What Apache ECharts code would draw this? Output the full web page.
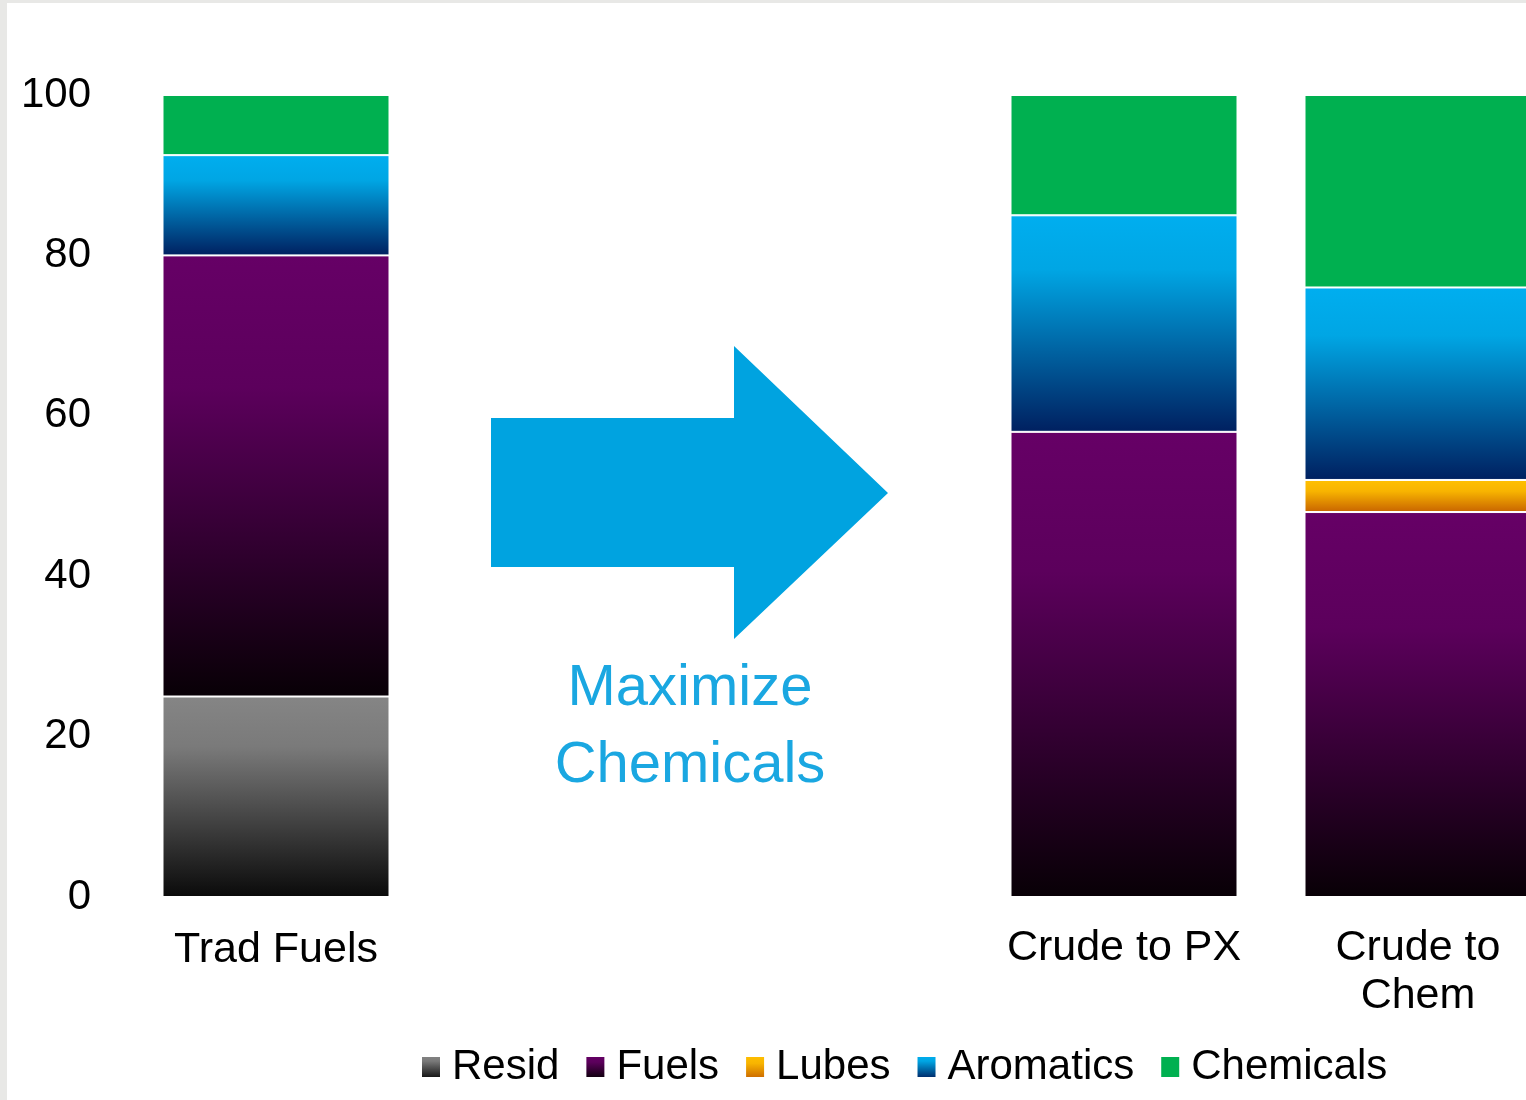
<!DOCTYPE html>
<html>
<head>
<meta charset="utf-8">
<script src="https://cdn.jsdelivr.net/npm/echarts@6/dist/echarts.min.js"></script>
<style>
  html, body { margin: 0; padding: 0; background: #ffffff; }
  #chart { width: 1526px; height: 1100px; }
</style>
</head>
<body>
<div id="chart"></div>
<script>
// ---- data ----
const leftCategories = ["Trad Fuels"];
const rightCategories = ["Crude to PX", "Crude to\nChem"];
const seriesNames = ["Resid", "Fuels", "Lubes", "Aromatics", "Chemicals"];
const residLeft = [25];
const fuelsLeft = [55];
const lubesLeft = [0];
const aromaticsLeft = [12.5];
const chemicalsLeft = [7.5];
const residRight = [0, 0];
const fuelsRight = [58, 48];
const lubesRight = [0, 4];
const aromaticsRight = [27, 24];
const chemicalsRight = [15, 24];
const yTicks = [0, 20, 40, 60, 80, 100];

// ---- styles ----
function grad(stops) {
  return new echarts.graphic.LinearGradient(0, 0, 0, 1,
    stops.map(s => ({ offset: s[0], color: s[1] })));
}
const colors = {
  Resid: grad([[0, '#858585'], [0.25, '#7a7a7a'], [1, '#0a0a0a']]),
  Fuels: grad([[0, '#660066'], [0.3, '#5c005c'], [1, '#080006']]),
  Lubes: grad([[0, '#ffc000'], [0.35, '#f8b400'], [1, '#c86400']]),
  Aromatics: grad([[0, '#00aeef'], [0.25, '#00a6e4'], [1, '#002060']]),
  Chemicals: '#00b050'
};
const leftData = { Resid: residLeft, Fuels: fuelsLeft, Lubes: lubesLeft, Aromatics: aromaticsLeft, Chemicals: chemicalsLeft };
const rightData = { Resid: residRight, Fuels: fuelsRight, Lubes: lubesRight, Aromatics: aromaticsRight, Chemicals: chemicalsRight };

const FONT = '"Liberation Sans", Arial, sans-serif';
const series = [];
seriesNames.forEach(name => {
  [[leftData, 0], [rightData, 1]].forEach(([src, idx]) => {
    series.push({
      name: name,
      type: 'bar',
      stack: 'total' + idx,
      xAxisIndex: idx,
      yAxisIndex: idx,
      barWidth: 227,
      data: src[name].map(v => v === 0 ? '-' : v),
      itemStyle: { color: colors[name], borderColor: '#ffffff', borderWidth: 1 },
      emphasis: { disabled: true }
    });
  });
});

const chart = echarts.init(document.getElementById('chart'));
chart.setOption({
  animation: false,
  backgroundColor: '#ffffff',
  textStyle: { fontFamily: FONT },
  grid: [
    { left: 110, width: 332, top: 95, bottom: 203, outerBoundsMode: 'none' },
    { left: 977, width: 588, top: 95, bottom: 203, outerBoundsMode: 'none' }
  ],
  xAxis: [
    { type: 'category', gridIndex: 0, data: leftCategories,
      axisLine: { show: false }, axisTick: { show: false },
      axisLabel: { fontSize: 43, color: '#000', margin: 29, fontFamily: FONT, lineHeight: 48 } },
    { type: 'category', gridIndex: 1, data: rightCategories,
      axisLine: { show: false }, axisTick: { show: false },
      axisLabel: { fontSize: 43, color: '#000', margin: 27, fontFamily: FONT, lineHeight: 48, interval: 0 } }
  ],
  yAxis: [
    { type: 'value', gridIndex: 0, min: yTicks[0], max: yTicks[yTicks.length - 1], interval: yTicks[1] - yTicks[0],
      axisLine: { show: false }, axisTick: { show: false }, splitLine: { show: false },
      axisLabel: { fontSize: 42, color: '#000', margin: 19, fontFamily: FONT } },
    { type: 'value', gridIndex: 1, min: yTicks[0], max: yTicks[yTicks.length - 1], interval: yTicks[1] - yTicks[0],
      show: false, splitLine: { show: false } }
  ],
  legend: {
    data: seriesNames,
    left: 415,
    top: 1040,
    itemWidth: 20,
    itemHeight: 22,
    itemGap: 25,
    icon: 'rect',
    textStyle: { fontSize: 42, color: '#000', fontFamily: FONT, padding: [0, 0, 0, 6], lineHeight: 44 }
  },
  graphic: [
    { type: 'rect', left: 0, top: 0, shape: { width: 1526, height: 3 }, style: { fill: '#e8e8e6' }, silent: true },
    { type: 'rect', left: 0, top: 0, shape: { width: 7, height: 1100 }, style: { fill: '#e8e8e6' }, silent: true },
    { type: 'polygon', silent: true,
      shape: { points: [[491, 418], [734, 418], [734, 346], [888, 493], [734, 639], [734, 567], [491, 567]] },
      style: { fill: '#00a3e0' } },
    { type: 'text', silent: true, x: 690, y: 689,
      style: { text: 'Maximize', fill: '#1aa7e1', font: '58px ' + FONT, textAlign: 'center', textVerticalAlign: 'middle' } },
    { type: 'text', silent: true, x: 690, y: 766,
      style: { text: 'Chemicals', fill: '#1aa7e1', font: '58px ' + FONT, textAlign: 'center', textVerticalAlign: 'middle' } }
  ],
  series: series
});
</script>
</body>
</html>
